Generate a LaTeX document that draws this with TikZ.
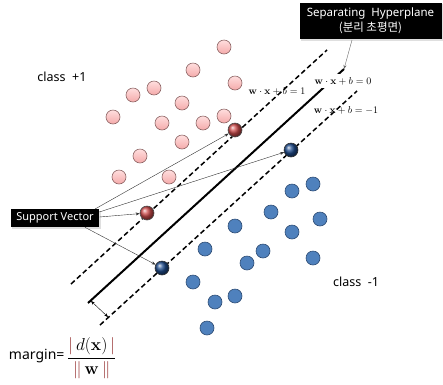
\documentclass[tikz,border=0pt]{standalone}
\usepackage[no-math]{fontspec}
\setmainfont{Noto Sans}
\newfontfamily\kofont{Noto Sans CJK KR}
\usetikzlibrary{shadows,arrows.meta,calc}
\definecolor{pinkT}{RGB}{255,222,222}
\definecolor{pinkB}{RGB}{244,170,170}
\definecolor{pinkD}{RGB}{140,100,100}
\definecolor{blueF}{RGB}{79,129,189}
\definecolor{blueD}{RGB}{45,75,115}
\definecolor{svred}{RGB}{205,75,75}
\definecolor{svblue}{RGB}{30,75,140}
\definecolor{barc}{RGB}{150,50,50}
\begin{document}
\begin{tikzpicture}[x=1pt,y=-1pt,
  ptdot/.style={circle,inner sep=0pt,minimum size=14pt,line width=0.6pt},
  posdot/.style={ptdot,draw=pinkD,top color=pinkT,bottom color=pinkB},
  negdot/.style={ptdot,draw=blueD,fill=blueF},
  svpos/.style={ptdot,draw=black!70,ball color=svred},
  svneg/.style={ptdot,draw=black!80,ball color=svblue},
  dline/.style={line width=1.5pt,dash pattern=on 5pt off 3pt},
  sline/.style={line width=2pt},
  callout/.style={->,>={Stealth[length=4pt,width=3pt]},line width=0.4pt,draw=black!80},
  blackbox/.style={fill=black,text=white,inner sep=0pt,drop shadow={opacity=0.25,shadow xshift=1.5pt,shadow yshift=-1.5pt}},
  eqlab/.style={font=\fontsize{10}{12}\selectfont,inner sep=1pt}
]
\useasboundingbox (0,0) rectangle (443,384);

% hyperplane lines
\coordinate (U1) at (71,284); \coordinate (U2) at (327,50);
\coordinate (S1) at (88,303); \coordinate (S2) at (344,69);
\coordinate (L1) at (100,325); \coordinate (L2) at (357,91);
\draw[dline] (U1) -- (U2);
\draw[sline] (S1) -- (S2);
\draw[dline] (L1) -- (L2);

% margin arrow
\coordinate (M1) at (91,301); \coordinate (M2) at (108,317);
\draw[<->,>={Stealth[length=4pt,width=3pt]},line width=0.4pt] (M1) -- (M2);

% equation labels
\node[eqlab] (e1) at (277,91) {$\mathbf{w}\cdot\mathbf{x}+b=1$};
\node[eqlab,fill=white,inner sep=3pt] (e0) at (343,81) {$\mathbf{w}\cdot\mathbf{x}+b=0$};
\node[eqlab] (em) at (346,110) {$\mathbf{w}\cdot\mathbf{x}+b=-1$};

% class +1 points
\foreach \x/\y [count=\i] in {224/47,193/70,235/83,154/88,133/95,182/103,113/117,162/123,203/123,224/116,182/142,140/156,119/177,169/177}
  \node[posdot] (p\i) at (\x,\y) {};
% class -1 points
\foreach \x/\y [count=\i] in {313/184,292/191,271/212,320/219,235/226,292/232,205/249,263/251,247/263,313/258,193/282,235/296,215/302,207/328}
  \node[negdot] (n\i) at (\x,\y) {};
% support vectors
\node[svpos] (rsv1) at (235,130) {};
\node[svpos] (rsv2) at (147,213) {};
\node[svneg] (bsv1) at (291,150) {};
\node[svneg] (bsv2) at (162,268) {};

% class labels
\node[font=\fontsize{12.5}{14}\selectfont] (c1) at (62,77) {class\ \ +1};
\node[font=\fontsize{12.5}{14}\selectfont] (c2) at (356,282) {class\ \ -1};

% support vector box
\node[blackbox,minimum width=88.5pt,minimum height=18pt,font=\fontsize{11}{13}\selectfont] (svbox) at (55,218) {Support Vector};
\coordinate (a1) at (95,209);
\coordinate (a2) at (99.3,212);
\coordinate (a3) at (99.3,217);
\coordinate (a4) at (85,227.3);
\draw[callout] (a1) -- (rsv1);
\draw[callout] (a2) -- (bsv1);
\draw[callout] (a3) -- (rsv2);
\draw[callout] (a4) -- (bsv2);

% separating hyperplane box
\node[blackbox,minimum width=142pt,minimum height=36.5pt,align=center,font=\fontsize{11.5}{15.5}\selectfont] (hpbox) at (370.5,21) {Separating\ \ Hyperplane\\{\kofont (분리 초평면)}};
\coordinate (h1) at (352,40);
\draw[callout,draw=black!60] (h1) -- (S2);

% margin formula
\node[anchor=east,font=\fontsize{14}{16}\selectfont] (mg) at (68,356) {margin=};
\node[anchor=west,inner sep=0pt,font=\fontsize{18}{21}\selectfont] (fr) at (67,358)
  {$\displaystyle\frac{{\color{barc}|}\,d(\mathbf{x})\,{\color{barc}|}}{{\color{barc}\|}\,\mathbf{w}\,{\color{barc}\|}}$};
\end{tikzpicture}
\end{document}
